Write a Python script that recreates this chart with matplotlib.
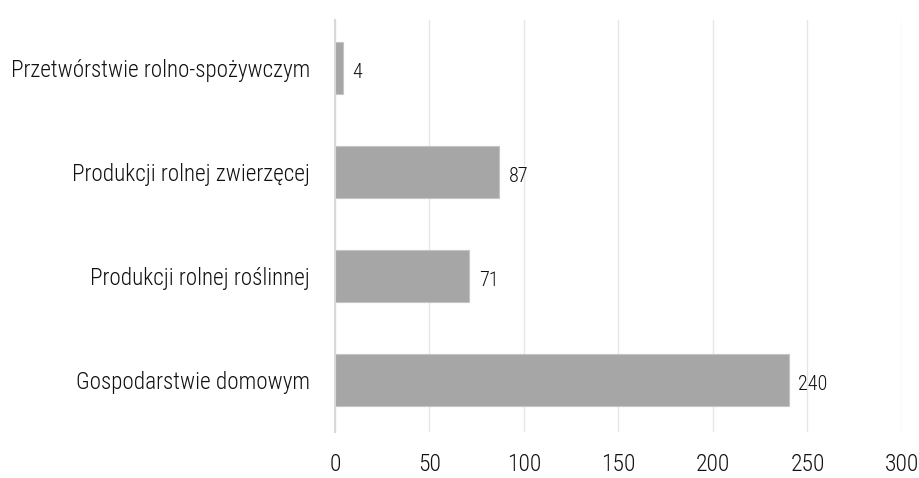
import matplotlib.pyplot as plt

# Data
categories = [
    "Gospodarstwie domowym",
    "Produkcji rolnej roślinnej",
    "Produkcji rolnej zwierzęcej",
    "Przetwórstwie rolno-spożywczym",
]
values = [240, 71, 87, 4]
x_ticks = [0, 50, 100, 150, 200, 250, 300]

plt.rcParams["font.family"] = ["Roboto Condensed", "DejaVu Sans"]
plt.rcParams["font.weight"] = "light"

fig = plt.figure(figsize=(9.19, 4.78), dpi=100)
ax = fig.add_axes([0.3645, 0.096, 0.617, 0.862])

bars = ax.barh(range(len(categories)), values, height=0.5,
               color="#a6a6a6", edgecolor="#c4c4c4", linewidth=0.8, zorder=3)

# Value labels next to each bar
for bar, v in zip(bars, values):
    ax.annotate(str(v), (bar.get_width(), bar.get_y() + bar.get_height() / 2),
                xytext=(7, -3), textcoords="offset points",
                ha="left", va="center", fontsize=14.5, color="#111111",
                fontweight="light")

ax.set_xlim(0, 300)
ax.set_ylim(-0.5, 3.46)
ax.set_xticks(x_ticks)
ax.set_yticks(range(len(categories)))
ax.set_yticklabels(categories, fontsize=16.7, color="#111111", fontweight="light")
for lbl in ax.get_xticklabels():
    lbl.set_fontweight("light")
ax.tick_params(axis="x", labelsize=17, colors="#111111", length=0, pad=15)
ax.tick_params(axis="y", length=0, pad=18)

ax.grid(axis="x", color="#e6e6e6", linewidth=1, zorder=0)
for side in ["top", "right", "bottom"]:
    ax.spines[side].set_visible(False)
ax.spines["left"].set_color("#d9d9d9")
ax.spines["left"].set_linewidth(1.5)
ax.spines["left"].set_zorder(4)

fig.savefig("out.png", dpi=100)
plt.close()
